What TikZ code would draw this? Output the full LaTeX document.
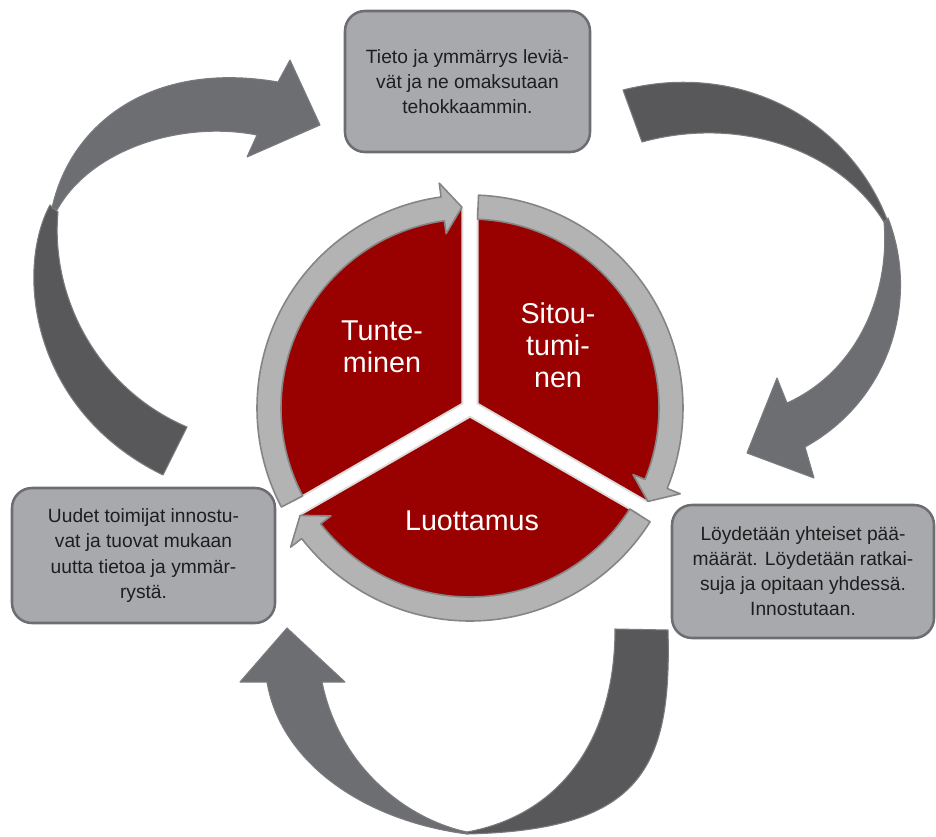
\documentclass[tikz,border=0pt]{standalone}
\usepackage{fontspec}
\setmainfont{Liberation Sans}

\definecolor{ringfill}{HTML}{B3B3B3}
\definecolor{ringline}{HTML}{858585}
\definecolor{sectorred}{HTML}{990000}
\definecolor{sectorrim}{HTML}{DCDCDC}
\definecolor{boxfill}{HTML}{A7A9AC}
\definecolor{boxline}{HTML}{6D6E71}
\definecolor{bandlight}{HTML}{6D6E71}
\definecolor{banddark}{HTML}{58585A}
\definecolor{bandline}{HTML}{7A7B7E}
\definecolor{boxtext}{HTML}{1E1E1E}

\tikzset{
  notebox/.style={draw=boxline, fill=boxfill, line width=1.9pt, rounded corners=15pt,
    align=center, text=boxtext, inner sep=0pt,
    font=\fontsize{14.4pt}{18.8pt}\selectfont},
  sectorlabel/.style={text=white, align=center, font=\fontsize{21.5pt}{24pt}\selectfont},
  ringpiece/.style={fill=ringfill, draw=ringline, line width=1.2pt, line join=round},
  headband/.style={fill=bandlight, draw=bandline, line width=0.8pt, line join=round},
  tailband/.style={fill=banddark, draw=bandline, line width=0.8pt, line join=round},
}

% one piece of the grey ring: tail angle #1, tip angle #2 (clockwise)
\newcommand{\cyclearc}[2]{%
  \draw[ringpiece] (#1:213) arc[start angle=#1, end angle={#2+5.5}, radius=213]
    -- ({#2+5.5}:227) -- (#2:201) -- ({#2+5.5}:176) -- ({#2+5.5}:189)
    arc[start angle={#2+5.5}, end angle=#1, radius=189] -- cycle;}

% one red wedge of the wheel, pushed outwards along its bisector #1
\newcommand{\wheelwedge}[2]{%
  \path[#2, shift={(#1:10)}] (0,0) -- ({#1-60}:196)
    arc[start angle={#1-60}, end angle={#1+60}, radius=196] -- cycle;}

\begin{document}
\begin{tikzpicture}[x=0.75pt, y=-0.75pt]
\useasboundingbox (0,0) rectangle (936,836);

% ---- large curved arrows around the cycle ----
% upper left
\draw[tailband] (50,205) .. controls (15,270) and (30,410) .. (163,475)
  -- (187,427) .. controls (100,390) and (50,300) .. (58,212) -- cycle;
\draw[headband] (52,208) .. controls (70,125) and (150,60) .. (278,82)
  -- (290,60) -- (320,125) -- (247,157) -- (257,135)
  .. controls (180,120) and (90,150) .. (57,210) -- cycle;

% upper right
\draw[tailband] (623,90) .. controls (740,60) and (850,120) .. (888,222)
  -- (884,222) .. controls (840,150) and (740,115) .. (642,142) -- cycle;
\draw[headband] (888,218) .. controls (920,300) and (890,400) .. (805,447)
  -- (814,478) -- (747,453) -- (777,378) -- (787,403)
  .. controls (860,370) and (890,290) .. (884,222) -- cycle;

% bottom
\draw[tailband] (615,629) -- (668,630) .. controls (672,770) and (640,830) .. (467,834)
  -- (467,832) .. controls (560,815) and (615,740) .. (615,629) -- cycle;
\draw[headband] (467,834) .. controls (360,820) and (280,760) .. (267,682)
  -- (240,682) -- (287,628) -- (345,682) -- (322,682)
  .. controls (340,770) and (410,820) .. (467,832) -- cycle;

% ---- central wheel ----
\begin{scope}[shift={(470,408)}, y=0.75pt]
  \begin{scope}
    \clip (0,0) circle[radius=200];
    % soft rim along the white gaps
    \foreach \b in {150,30,270} {\wheelwedge{\b}{draw=sectorrim, line width=3pt}}
    \foreach \b in {150,30,270} {\wheelwedge{\b}{fill=sectorred}}
  \end{scope}
  \cyclearc{207.7}{92.3}
  \cyclearc{87.7}{-27.7}
  \cyclearc{-32.3}{-147.7}
\end{scope}

\node[sectorlabel] (tunteminen) at (382,347) {Tunte-\\minen};
\node[sectorlabel] (sitoutuminen) at (558,345) {Sitou-\\tumi-\\nen};
\node[sectorlabel] (luottamus) at (472,521) {Luottamus};

% ---- text boxes ----
\node[notebox, minimum width=183.75pt, minimum height=105.75pt] (topbox) at (467.5,81.5)
  {Tieto ja ymmärrys leviä-\\vät ja ne omaksutaan\\tehokkaammin.};
\node[notebox, minimum width=196.5pt, minimum height=99.75pt] (rightbox) at (803,571.5)
  {Löydetään yhteiset pää-\\määrät. Löydetään ratkai-\\suja ja opitaan yhdessä.\\Innostutaan.};
\node[notebox, minimum width=197.25pt, minimum height=101.25pt] (leftbox) at (143.5,555.5)
  {Uudet toimijat innostu-\\vat ja tuovat mukaan\\uutta tietoa ja ymmär-\\rystä.};
\end{tikzpicture}
\end{document}
